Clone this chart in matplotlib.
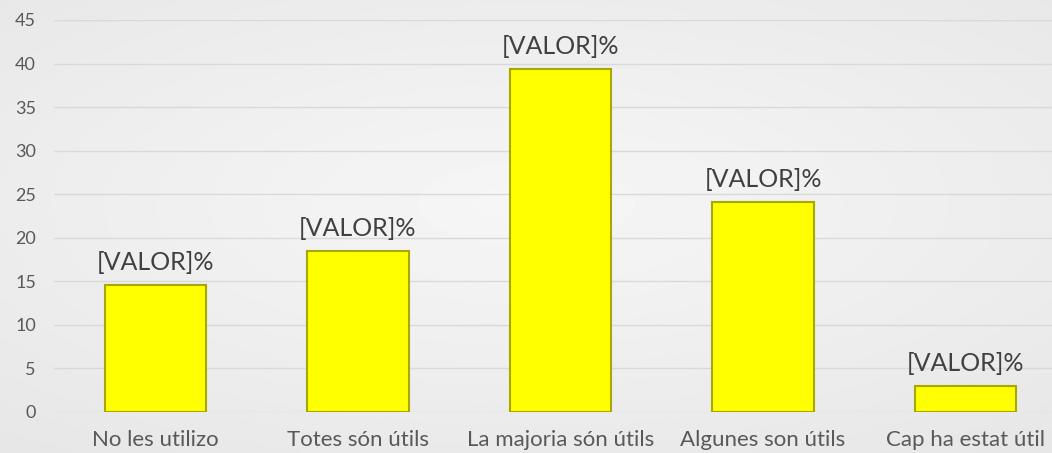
import matplotlib

matplotlib.use('Agg')

import matplotlib.pyplot as plt
import numpy as np

categories = ['No les utilizo', 'Totes són útils', 'La majoria són útils', 'Algunes son útils', 'Cap ha estat útil']
values = [14.6, 18.5, 39.4, 24.1, 3.0]
bar_label = '[VALOR]%'
yticks = [0, 5, 10, 15, 20, 25, 30, 35, 40, 45]

plt.rcParams['font.family'] = ['Lato', 'DejaVu Sans']

W, H = 1052, 453
fig = plt.figure(figsize=(W / 100, H / 100), dpi=100)

# soft gray background gradient
bg = fig.add_axes([0, 0, 1, 1])
yy, xx = np.mgrid[0:1:200j, 0:1:400j]
r = np.sqrt(((xx - 0.5) / 0.9) ** 2 + ((yy - 0.45) / 0.8) ** 2)
bg.imshow(0.965 - 0.07 * r, cmap='gray', vmin=0, vmax=1, aspect='auto', extent=[0, 1, 0, 1])
bg.set_axis_off()

left = 54 / W
right = 1067 / W
bottom = (H - 412) / H
top = (H - 20) / H
ax = fig.add_axes([left, bottom, right - left, top - bottom])
ax.patch.set_alpha(0)

x = np.arange(len(categories))
bars = ax.bar(x, values, width=0.5, color='#ffff00', edgecolor='#a8a800', linewidth=1.5, zorder=3)

for b, v in zip(bars, values):
    ax.annotate(bar_label, (b.get_x() + b.get_width() / 2, v), xytext=(0, 8),
                textcoords='offset points', ha='center', va='bottom',
                fontsize=18, color='#404040')

ax.set_xlim(-0.5, len(categories) - 0.5)
ax.set_ylim(0, 45)
ax.set_yticks(yticks)
ax.set_xticks(x)
ax.set_xticklabels(categories)
ax.tick_params(axis='y', length=0, pad=13, labelsize=13, labelcolor='#595959')
ax.tick_params(axis='x', length=0, pad=13, labelsize=16, labelcolor='#595959')
ax.grid(axis='y', color='#d9d9d9', linewidth=1, zorder=0)
for s in ax.spines.values():
    s.set_visible(False)

fig.savefig('out.png', dpi=100)
